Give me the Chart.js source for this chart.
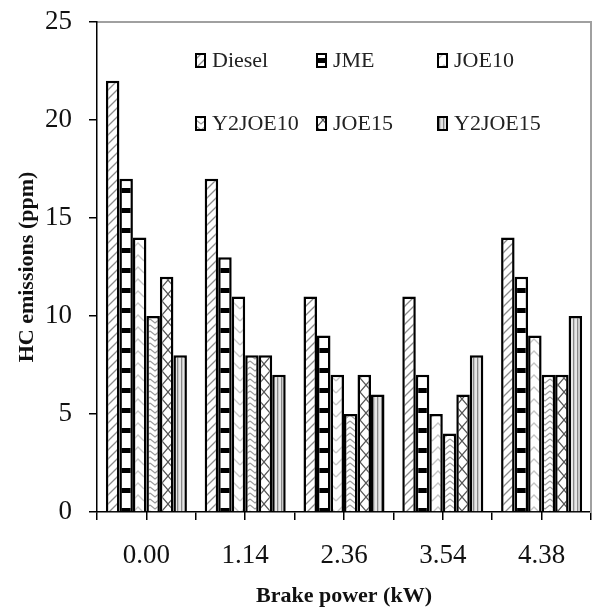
<!DOCTYPE html>
<html>
<head>
<meta charset="utf-8">
<script src="https://cdn.jsdelivr.net/npm/chart.js@4"></script>
<style>
  html, body { margin: 0; padding: 0; background: #fff; }
  #wrap { width: 593px; height: 612px; position: relative; }
</style>
</head>
<body>
<div id="wrap"><canvas id="c" width="593" height="612"></canvas></div>
<script>
const categories = ['0.00', '1.14', '2.36', '3.54', '4.38'];
const seriesNames = ['Diesel', 'JME', 'JOE10', 'Y2JOE10', 'JOE15', 'Y2JOE15'];
const diesel  = [22, 17, 11, 11, 14];
const jme     = [17, 13, 9, 7, 12];
const joe10   = [14, 11, 7, 5, 9];
const y2joe10 = [10, 8, 5, 4, 7];
const joe15   = [12, 8, 7, 6, 7];
const y2joe15 = [8, 7, 6, 8, 10];
const yTicks  = [0, 5, 10, 15, 20, 25];
const xTitle = 'Brake power (kW)';
const yTitle = 'HC emissions (ppm)';

function makePattern(w, h, draw) {
  const c = document.createElement('canvas');
  c.width = w; c.height = h;
  const g = c.getContext('2d');
  g.fillStyle = '#fff';
  g.fillRect(0, 0, w, h);
  draw(g, w, h);
  return document.getElementById('c').getContext('2d').createPattern(c, 'repeat');
}

const patterns = [
  // Diesel: diagonal hatch
  makePattern(9, 9, (g, w, h) => {
    g.strokeStyle = '#8a8a8a'; g.lineWidth = 1.3;
    g.beginPath();
    g.moveTo(-2, h + 2); g.lineTo(w + 2, -2);
    g.moveTo(-2, 2); g.lineTo(2, -2);
    g.moveTo(w - 2, h + 2); g.lineTo(w + 2, h - 2);
    g.stroke();
  }),
  // JME: horizontal black bands
  makePattern(4, 20, (g, w, h) => {
    g.fillStyle = '#000';
    g.fillRect(0, 8, w, 5);
  }),
  // JOE10: light chevrons
  makePattern(12, 12, (g, w, h) => {
    g.strokeStyle = '#c4c4c4'; g.lineWidth = 1.4;
    g.beginPath();
    g.moveTo(0, 9); g.lineTo(6, 3); g.lineTo(12, 9);
    g.stroke();
  }),
  // Y2JOE10: dense wave chevrons
  makePattern(10, 6, (g, w, h) => {
    g.strokeStyle = '#9a9a9a'; g.lineWidth = 1.2;
    g.beginPath();
    g.moveTo(0, 1); g.lineTo(5, 5); g.lineTo(10, 1);
    g.stroke();
  }),
  // JOE15: crosshatch
  makePattern(12, 14, (g, w, h) => {
    g.strokeStyle = '#555'; g.lineWidth = 1.2;
    g.beginPath();
    g.moveTo(0, 0); g.lineTo(w, h);
    g.moveTo(w, 0); g.lineTo(0, h);
    g.stroke();
  }),
  // Y2JOE15: vertical lines
  makePattern(4, 4, (g, w, h) => {
    g.fillStyle = '#e6e6e6'; g.fillRect(0, 0, w, h);
    g.fillStyle = '#888'; g.fillRect(1, 0, 1.3, h);
  })
];

const seriesValues = [diesel, jme, joe10, y2joe10, joe15, y2joe15];

const legendPlugin = {
  id: 'gridLegend',
  afterDraw(chart) {
    const ctx = chart.ctx;
    const a = chart.chartArea;
    chart.data.datasets.forEach((ds, i) => {
      const col = i % 3, row = Math.floor(i / 3);
      const x = a.left + 99 + col * 121;
      const y = a.top + 38 + row * 63;
      ctx.save();
      ctx.translate(x, y - 10);
      ctx.fillStyle = ds.backgroundColor;
      ctx.fillRect(0, 4, 9, 13);
      ctx.strokeStyle = '#000';
      ctx.lineWidth = 2;
      ctx.strokeRect(0, 4, 9, 13);
      ctx.restore();
      ctx.save();
      ctx.fillStyle = '#222';
      ctx.font = '22px "Liberation Serif"';
      ctx.textBaseline = 'middle';
      ctx.textAlign = 'left';
      ctx.fillText(ds.label, x + 16, y + 1);
      ctx.restore();
    });
  }
};

function noPad(s) { s.paddingTop = 0; s.paddingBottom = 0; s.paddingLeft = 0; s.paddingRight = 0; }

new Chart(document.getElementById('c'), {
  type: 'bar',
  data: {
    labels: categories,
    datasets: seriesNames.map((name, i) => ({
      label: name,
      data: seriesValues[i],
      backgroundColor: patterns[i],
      borderColor: '#000',
      borderWidth: 2.5,
      categoryPercentage: 0.82,
      barPercentage: 1.0,
      xAxisID: 'x',
      yAxisID: 'y'
    }))
  },
  options: {
    responsive: false,
    animation: false,
    devicePixelRatio: 1,
    layout: { padding: { top: 22, right: 2, left: 0, bottom: 0 } },
    plugins: { legend: { display: false }, tooltip: { enabled: false } },
    scales: {
      x: {
        position: 'bottom',
        grid: { display: true, offset: true, drawOnChartArea: false, drawTicks: true, tickLength: 8, color: '#000', lineWidth: 1.5 },
        border: { display: true, color: '#000', width: 1.5 },
        ticks: { color: '#111', font: { family: 'Liberation Serif', size: 27 }, padding: 20, maxRotation: 0 },
        title: { display: true, text: xTitle, color: '#111', font: { family: 'Liberation Serif', size: 22, weight: 'bold' }, padding: { top: 4, bottom: 2 } },
        afterFit(s) { s.height = 100; noPad(s); }
      },
      xMid: {
        position: 'bottom',
        weight: -1,
        labels: categories,
        grid: { display: true, offset: false, drawOnChartArea: false, drawTicks: true, tickLength: 8, color: '#000', lineWidth: 1.5 },
        border: { display: false },
        ticks: { display: false },
        afterFit(s) { s.height = 0; noPad(s); }
      },
      xTop: {
        position: 'top',
        labels: categories,
        grid: { display: false },
        border: { display: true, color: '#a0a0a0', width: 2 },
        ticks: { display: false },
        afterFit(s) { s.height = 0; noPad(s); }
      },
      y: {
        min: 0, max: 25,
        afterBuildTicks(s) { s.ticks = yTicks.map(v => ({ value: v })); },
        grid: { display: true, drawOnChartArea: false, drawTicks: true, tickLength: 8, color: '#000', lineWidth: 1.5 },
        border: { display: true, color: '#000', width: 1.5 },
        ticks: { color: '#111', font: { family: 'Liberation Serif', size: 27 }, padding: 17 },
        title: { display: true, text: yTitle, color: '#111', font: { family: 'Liberation Serif', size: 22, weight: 'bold' }, padding: { top: 14, bottom: 4 } },
        afterFit(s) { s.width = 97; noPad(s); }
      },
      yRight: {
        position: 'right',
        min: 0, max: 25,
        grid: { display: false },
        border: { display: true, color: '#a0a0a0', width: 2 },
        ticks: { display: false },
        afterFit(s) { s.width = 0; noPad(s); }
      }
    }
  },
  plugins: [legendPlugin]
});
</script>
</body>
</html>
